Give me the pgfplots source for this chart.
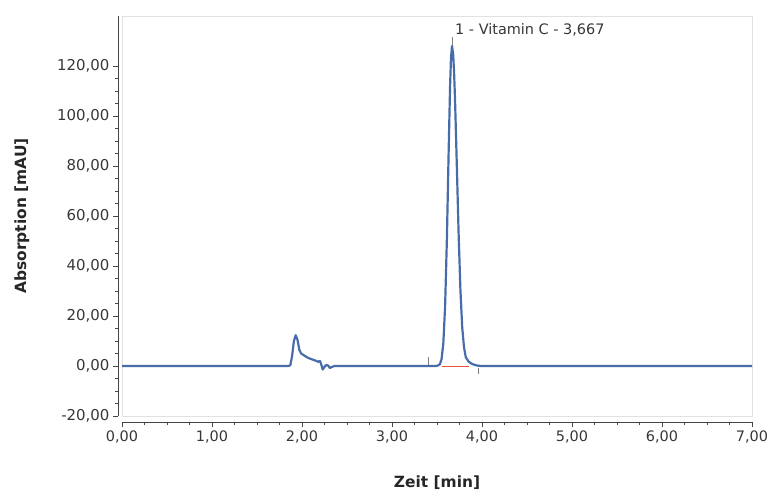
\documentclass[border=0pt]{standalone}
\usepackage{pgfplots}
\pgfplotsset{compat=1.18}
\usepackage{fontspec}
\setmainfont{DejaVu Sans}
\definecolor{curve}{RGB}{72,108,170}
\definecolor{axisgray}{RGB}{70,70,70}
\definecolor{framegray}{RGB}{225,225,225}
\definecolor{txtgray}{RGB}{55,55,55}
\definecolor{basered}{RGB}{235,80,60}

\begin{document}
\begin{tikzpicture}
\begin{axis}[
    name=ax,
    scale only axis,
    width=630bp, height=400bp,
    xmin=0, xmax=7,
    ymin=-20, ymax=140,
    axis x line*=bottom,
    axis y line*=left,
    axis x line shift=6bp,
    axis y line shift=4bp,
    axis line style={axisgray, line width=0.7pt, -},
    xtick={0,1,...,7},
    ytick={-20,0,20,...,120},
    minor x tick num=3,
    minor y tick num=3,
    tick align=outside,
    major tick length=5bp,
    minor tick length=3bp,
    tick style={axisgray, line width=0.6pt},
    xticklabel style={font=\fontsize{14.5}{17}\selectfont, text=txtgray},
    yticklabel style={font=\fontsize{15}{17}\selectfont, text=txtgray},
    /pgf/number format/.cd, fixed, fixed zerofill, precision=2, use comma, assume math mode=true,
    /pgfplots/.cd,
    xlabel={Zeit [min]},
    ylabel={Absorption [mAU]},
    label style={font=\fontsize{15.5}{18}\bfseries\selectfont, text=black!85},
    xlabel style={at={(axis description cs:0.5,-0.1675)}, anchor=center},
    ylabel style={at={(axis description cs:-0.159,0.5)}, anchor=center},
    clip=false,
]
\draw[framegray, line width=0.8pt] (rel axis cs:0,0) rectangle (rel axis cs:1,1);

% integration baseline and peak markers
\addplot[basered, line width=0.9pt] coordinates {(3.55,0) (3.86,0)};
\addplot[gray, line width=0.8pt] coordinates {(3.40,0) (3.40,3.6)};
\addplot[gray, line width=0.8pt] coordinates {(3.956,-0.8) (3.956,-3.2)};
\addplot[gray, line width=0.8pt] coordinates {(3.667,128) (3.667,131.5)};

\addplot[curve, line width=2.2pt, line join=round] coordinates {
(0.00,0) (1.00,0) (1.85,0) (1.87,0.3) (1.89,4.0) (1.91,10.0) (1.93,12.3)
(1.95,10.5) (1.97,6.5) (1.99,5.0) (2.02,4.3) (2.06,3.4) (2.10,2.8)
(2.14,2.3) (2.18,1.7) (2.20,2.0) (2.215,0.5) (2.23,-1.4) (2.25,-0.3)
(2.27,0.4) (2.29,0.2) (2.31,-0.8) (2.33,-0.4) (2.36,0) (2.50,0)
(3.00,0) (3.45,0) (3.50,0.05) (3.53,0.6) (3.55,2.6) (3.57,8.9)
(3.59,23.8) (3.61,51.0) (3.63,86.8) (3.645,111.6) (3.655,122.9) (3.667,128.0)
(3.68,124.5) (3.69,117.3) (3.70,106.9) (3.72,80.5) (3.74,53.1) (3.76,30.6)
(3.78,15.5) (3.80,7.5) (3.82,3.5) (3.85,1.8) (3.88,1.0) (3.92,0.4)
(3.96,0.1) (4.00,0) (5.00,0) (6.00,0) (7.00,0)
};

\node[anchor=west, inner sep=0pt, text=txtgray, font=\fontsize{14.5}{17}\selectfont]
  at (axis cs:3.70,134.5) {1 - Vitamin C - 3,667};
\end{axis}
\path ([xshift=-122bp,yshift=-76bp]ax.south west) rectangle ([xshift=23bp,yshift=16bp]ax.north east);
\end{tikzpicture}
\end{document}
